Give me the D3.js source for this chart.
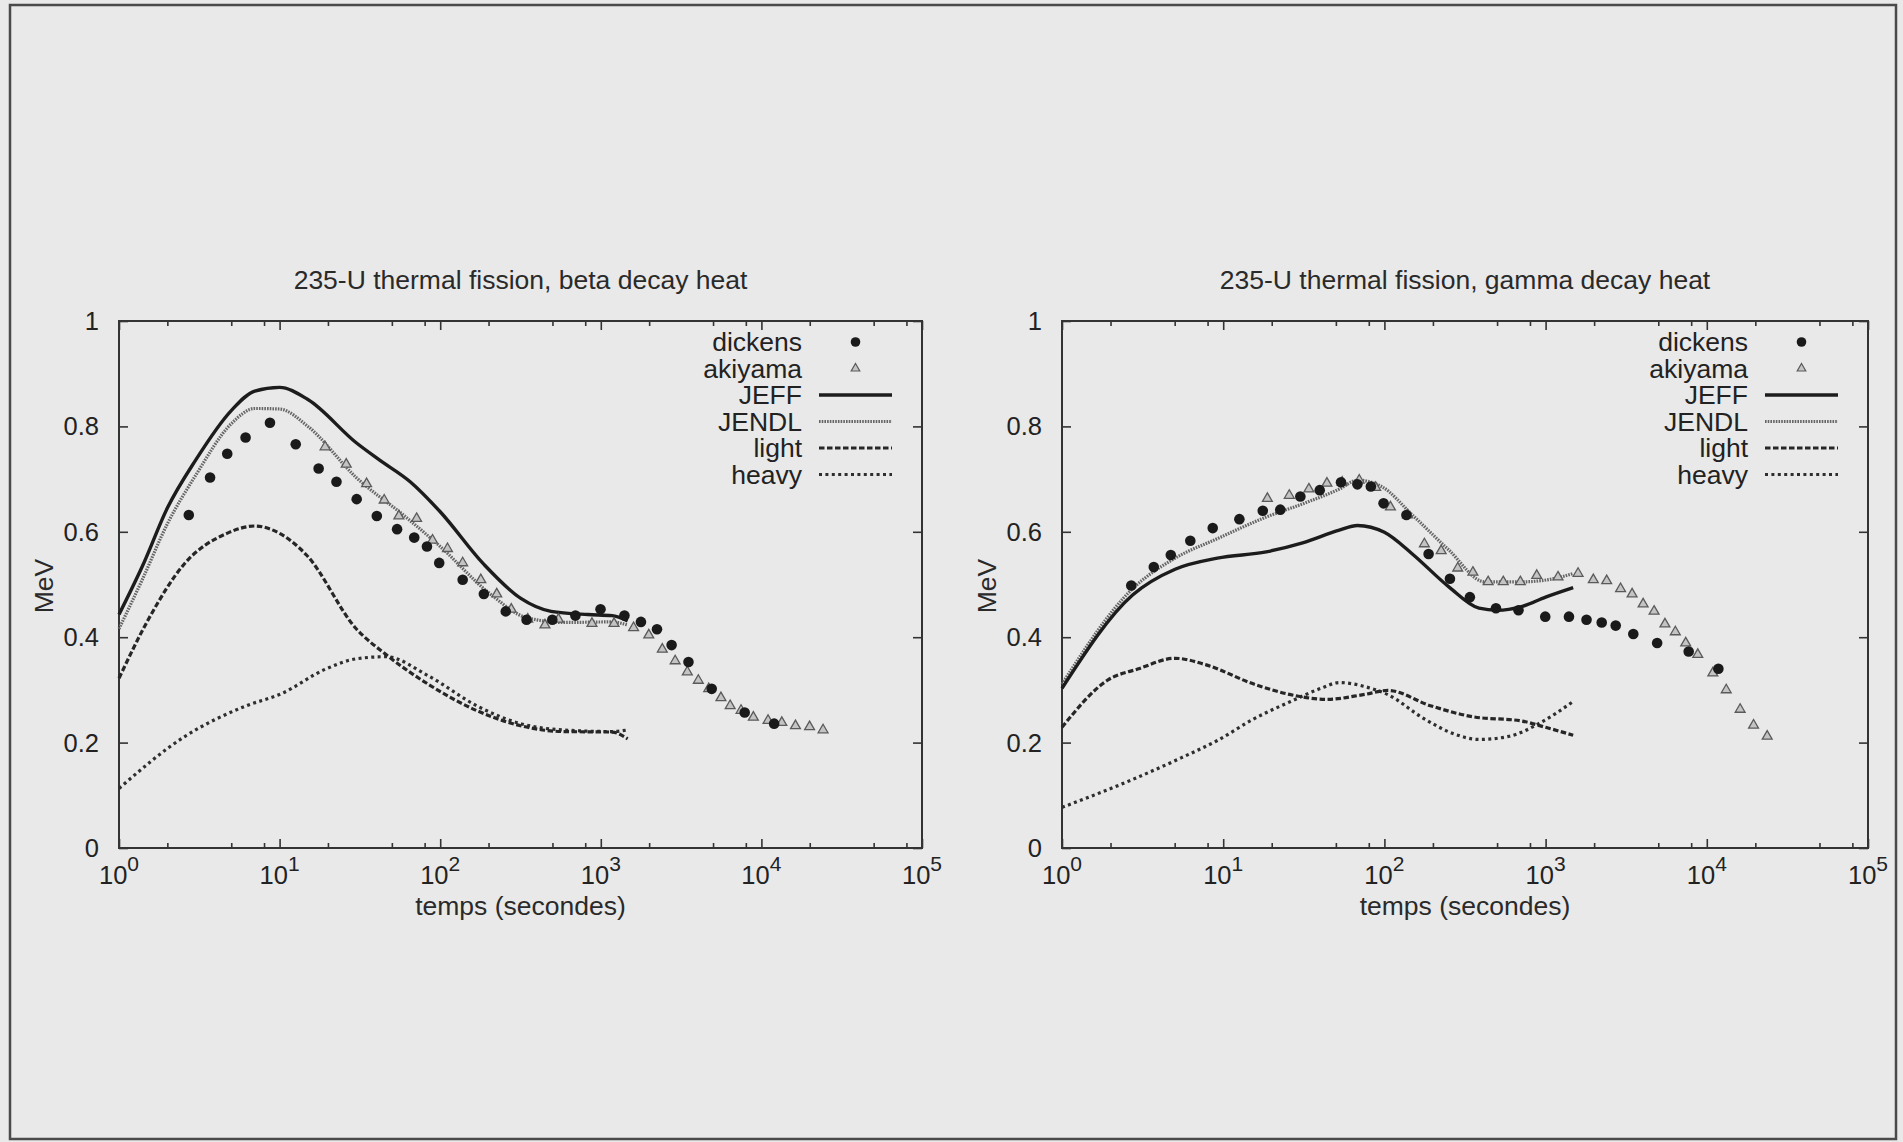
<!DOCTYPE html>
<html lang="fr">
<head>
  <meta charset="UTF-8" />
  <title>235-U thermal fission decay heat</title>
  <script src="https://d3js.org/d3.v7.min.js"></script>
  <style>
    body {
      margin: 0;
      padding: 0;
      background-color: #e9e9e9;
    }
    svg {
      display: block;
      font-family: "Liberation Sans", Arial, sans-serif;
      fill: #222;
    }
    .frame {
      fill: none;
      stroke: #333;
      stroke-width: 2px;
    }
    .tick line {
      stroke: #333;
      stroke-width: 1.6px;
    }
    .ticklabel {
      font-size: 25.5px;
      fill: #222;
    }
    .title, .axislabel {
      font-size: 26.5px;
      fill: #2a2a2a;
    }
    .legend text {
      font-size: 26.5px;
      fill: #222;
      text-anchor: end;
      dominant-baseline: central;
    }
    .series {
      fill: none;
    }
  </style>
</head>
<body>
  <svg id="chart" width="1903" height="1142"></svg>

  <script>
    // ---- data ----
    // beta decay heat (left panel), [time in s, MeV]
    const betaJeff = [[1,0.443],[1.4,0.535],[2,0.645],[3,0.736],[5,0.83],[7,0.867],[10,0.874],[15,0.851],
      [30,0.769],[42,0.736],[65,0.695],[100,0.638],[186,0.539],[316,0.474],[490,0.449],[830,0.443],[1175,0.441],[1470,0.431]];
    const betaJendl = [[1,0.416],[1.4,0.51],[2,0.615],[3,0.707],[5,0.805],[7,0.834],[10,0.833],[15,0.80],
      [30,0.703],[60,0.63],[100,0.572],[205,0.482],[346,0.437],[600,0.428],[1175,0.429],[1470,0.423]];
    const betaLight = [[1,0.322],[1.5,0.43],[2.55,0.539],[4.7,0.597],[7,0.611],[10,0.597],[14.7,0.556],
      [30,0.416],[46,0.367],[85,0.31],[171,0.26],[316,0.232],[580,0.221],[1175,0.22],[1470,0.207]];
    const betaHeavy = [[1,0.113],[2.55,0.211],[6.1,0.269],[10.3,0.293],[19.2,0.339],[30,0.359],[46,0.363],
      [85,0.326],[171,0.269],[316,0.236],[580,0.224],[1175,0.221],[1470,0.224]];
    const betaDickens = [[2.72,0.632],[3.69,0.703],[4.72,0.748],[6.14,0.779],[8.71,0.807],[12.6,0.766],[17.5,0.72],
      [22.6,0.695],[30.2,0.662],[40.3,0.63],[53.9,0.605],[68.9,0.589],[82.7,0.572],[98.6,0.541],[138,0.509],
      [187,0.482],[256,0.449],[345,0.433],[499,0.433],[695,0.441],[996,0.453],[1403,0.441],[1778,0.429],
      [2238,0.415],[2760,0.385],[3515,0.353],[4904,0.302],[7870,0.257],[12000,0.236]];
    const betaAkiyama = [[19.2,0.761],[26,0.728],[34.8,0.691],[44.8,0.66],[55.3,0.63],[71.3,0.625],[89.6,0.584],
      [111,0.568],[138,0.541],[179,0.509],[225,0.482],[277,0.453],[351,0.434],[449,0.423],[545,0.434],[881,0.426],
      [1209,0.426],[1600,0.418],[1990,0.404],[2415,0.377],[2904,0.355],[3457,0.334],[4048,0.318],[4700,0.302],
      [5600,0.285],[6390,0.27],[7470,0.261],[8910,0.248],[11000,0.242],[13400,0.238],[16300,0.232],[19950,0.23],[24200,0.224]];

    // gamma decay heat (right panel)
    const gammaJeff = [[1,0.303],[2.74,0.48],[5.03,0.529],[9.2,0.55],[18.5,0.562],[31.1,0.579],[52.5,0.603],
      [68,0.612],[100,0.599],[149,0.558],[250,0.496],[386,0.455],[501,0.451],[709,0.458],[1000,0.476],[1483,0.494]];
    const gammaJendl = [[1,0.311],[2.74,0.492],[5.03,0.55],[9.2,0.587],[18.5,0.628],[31.1,0.653],[52.5,0.681],
      [68,0.698],[96,0.686],[149,0.632],[250,0.566],[420,0.505],[709,0.505],[1200,0.513],[1483,0.521]];
    const gammaLight = [[1,0.229],[1.93,0.319],[2.98,0.34],[5.03,0.36],[7.76,0.348],[15.5,0.311],[26.2,0.291],
      [44,0.282],[74,0.291],[105,0.299],[193,0.27],[354,0.249],[709,0.241],[1000,0.229],[1483,0.214]];
    const gammaHeavy = [[1,0.077],[2.74,0.13],[5.48,0.171],[9.2,0.204],[15.5,0.245],[26.2,0.278],[40.4,0.303],
      [52.5,0.314],[74,0.307],[105,0.291],[177,0.245],[273,0.216],[386,0.206],[596,0.212],[920,0.237],[1483,0.278]];
    const gammaDickens = [[2.69,0.498],[3.71,0.533],[4.73,0.556],[6.25,0.583],[8.61,0.607],[12.6,0.624],[17.6,0.64],
      [22.6,0.642],[30.1,0.667],[39.7,0.679],[53.8,0.694],[68,0.69],[82.4,0.686],[98.8,0.654],[137,0.632],
      [188,0.558],[255,0.511],[339,0.476],[492,0.455],[679,0.451],[995,0.439],[1396,0.439],[1794,0.433],
      [2229,0.428],[2722,0.422],[3500,0.406],[4920,0.389],[7720,0.373],[11800,0.34]];
    const gammaAkiyama = [[18.8,0.663],[25.7,0.669],[34,0.681],[44,0.692],[54.7,0.694],[69.8,0.698],[88.3,0.684],
      [109,0.647],[139,0.632],[177,0.577],[225,0.564],[285,0.531],[354,0.523],[440,0.505],[546,0.505],[697,0.505],
      [881,0.517],[1194,0.514],[1590,0.521],[1977,0.509],[2393,0.507],[2918,0.492],[3441,0.482],[4027,0.463],
      [4710,0.449],[5500,0.425],[6380,0.41],[7400,0.389],[8790,0.367],[10900,0.332],[13200,0.3],[16100,0.263],
      [19500,0.233],[23700,0.212]];

    const xMajor = [1, 10, 100, 1000, 10000, 100000];
    const xMinorMantissa = [2, 5, 8];
    const yTicks = [0, 0.2, 0.4, 0.6, 0.8, 1];
    const legendNames = ["dickens", "akiyama", "JEFF", "JENDL", "light", "heavy"];

    // line styles for the four curves
    const styles = {
      JEFF:  { stroke: "#1c1c1c", width: 3.4, dash: null },
      JENDL: { stroke: "#666", width: 3.2, dash: "1.6,1.1" },
      light: { stroke: "#262626", width: 3.2, dash: "5.5,2.5" },
      heavy: { stroke: "#2e2e2e", width: 3.2, dash: "3,3.4" }
    };

    const svg = d3.select("#chart");

    // outer scanned page border
    svg.append("rect")
      .attr("x", 10).attr("y", 5)
      .attr("width", 1886).attr("height", 1134)
      .attr("fill", "none")
      .attr("stroke", "#4a4a4a")
      .attr("stroke-width", 2.5);

    function drawPanel(p) {
      const g = svg.append("g");
      const x = d3.scaleLog().domain([1, 1e5]).range([p.left, p.right]);
      const y = d3.scaleLinear().domain([0, 1]).range([848, 321]);

      const minor = [];
      xMajor.slice(0, -1).forEach(d => xMinorMantissa.forEach(m => minor.push(d * m)));

      // inward ticks, mirrored on top and right
      g.append("g").attr("transform", `translate(0,${y(0)})`)
        .call(d3.axisBottom(x).tickValues(xMajor).tickSize(-9).tickFormat(""));
      g.append("g").attr("transform", `translate(0,${y(0)})`)
        .call(d3.axisBottom(x).tickValues(minor).tickSize(-5).tickFormat(""));
      g.append("g").attr("transform", `translate(0,${y(1)})`)
        .call(d3.axisTop(x).tickValues(xMajor).tickSize(-9).tickFormat(""));
      g.append("g").attr("transform", `translate(0,${y(1)})`)
        .call(d3.axisTop(x).tickValues(minor).tickSize(-5).tickFormat(""));
      g.append("g").attr("transform", `translate(${p.left},0)`)
        .call(d3.axisLeft(y).tickValues(yTicks).tickSize(-9).tickFormat(""));
      g.append("g").attr("transform", `translate(${p.right},0)`)
        .call(d3.axisRight(y).tickValues(yTicks).tickSize(-9).tickFormat(""));
      g.selectAll(".domain").remove();

      g.append("rect").attr("class", "frame")
        .attr("x", p.left).attr("y", y(1))
        .attr("width", p.right - p.left).attr("height", y(0) - y(1));

      // tick labels
      g.selectAll(".ylab").data(yTicks).enter().append("text")
        .attr("class", "ticklabel")
        .attr("x", p.left - 20)
        .attr("y", d => y(d))
        .attr("text-anchor", "end")
        .attr("dominant-baseline", "central")
        .text(d => d3.format("~g")(d));

      const xl = g.selectAll(".xlab").data(xMajor).enter().append("text")
        .attr("class", "ticklabel")
        .attr("x", d => x(d))
        .attr("y", 884)
        .attr("text-anchor", "middle");
      xl.append("tspan").text("10");
      xl.append("tspan").attr("dy", -13).style("font-size", "21px")
        .text(d => Math.round(Math.log10(d)));

      // titles
      g.append("text").attr("class", "title")
        .attr("x", (p.left + p.right) / 2).attr("y", 289)
        .attr("text-anchor", "middle").text(p.title);
      g.append("text").attr("class", "axislabel")
        .attr("x", (p.left + p.right) / 2).attr("y", 915)
        .attr("text-anchor", "middle").text("temps (secondes)");
      g.append("text").attr("class", "axislabel")
        .attr("transform", `translate(${p.left - 75},586) rotate(-90)`)
        .attr("text-anchor", "middle").attr("dominant-baseline", "central")
        .text("MeV");

      // curves
      const line = d3.line()
        .x(d => x(d[0])).y(d => y(d[1]))
        .curve(d3.curveMonotoneX);
      const curves = [["heavy", p.heavy], ["light", p.light], ["JENDL", p.jendl], ["JEFF", p.jeff]];
      curves.forEach(([name, data]) => {
        const s = styles[name];
        g.append("path").datum(data).attr("class", "series")
          .attr("d", line)
          .attr("stroke", s.stroke)
          .attr("stroke-width", s.width)
          .attr("stroke-dasharray", s.dash);
      });

      // measured points
      const tri = d3.symbol().type(d3.symbolTriangle).size(42);
      g.selectAll(".aki").data(p.akiyama).enter().append("path")
        .attr("d", tri)
        .attr("transform", d => `translate(${x(d[0])},${y(d[1])})`)
        .attr("fill", "#c4c4c4").attr("stroke", "#5a5a5a").attr("stroke-width", 1.3);
      g.selectAll(".dic").data(p.dickens).enter().append("circle")
        .attr("cx", d => x(d[0])).attr("cy", d => y(d[1]))
        .attr("r", 5.3).attr("fill", "#1a1a1a");

      // legend
      const lg = g.append("g").attr("class", "legend");
      const rowY = i => 342 + i * 26.5;
      const textX = p.right - 120;
      const lineX0 = p.right - 103, lineX1 = p.right - 30;
      legendNames.forEach((name, i) => {
        lg.append("text").attr("x", textX).attr("y", rowY(i)).text(name);
        if (name === "dickens") {
          lg.append("circle").attr("cx", (lineX0 + lineX1) / 2).attr("cy", rowY(i))
            .attr("r", 4.8).attr("fill", "#1a1a1a");
        } else if (name === "akiyama") {
          lg.append("path").attr("d", d3.symbol().type(d3.symbolTriangle).size(32))
            .attr("transform", `translate(${(lineX0 + lineX1) / 2},${rowY(i)})`)
            .attr("fill", "#c4c4c4").attr("stroke", "#5a5a5a").attr("stroke-width", 1.2);
        } else {
          const s = styles[name];
          lg.append("line")
            .attr("x1", lineX0).attr("x2", lineX1)
            .attr("y1", rowY(i)).attr("y2", rowY(i))
            .attr("stroke", s.stroke).attr("stroke-width", s.width)
            .attr("stroke-dasharray", s.dash);
        }
      });
    }

    drawPanel({
      left: 119, right: 922,
      title: "235-U thermal fission, beta decay heat",
      jeff: betaJeff, jendl: betaJendl, light: betaLight, heavy: betaHeavy,
      dickens: betaDickens, akiyama: betaAkiyama
    });
    drawPanel({
      left: 1062, right: 1868,
      title: "235-U thermal fission, gamma decay heat",
      jeff: gammaJeff, jendl: gammaJendl, light: gammaLight, heavy: gammaHeavy,
      dickens: gammaDickens, akiyama: gammaAkiyama
    });
  </script>
</body>
</html>
